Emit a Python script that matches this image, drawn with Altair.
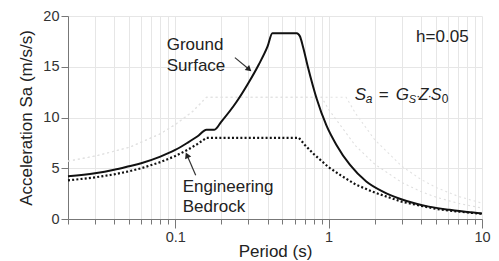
import altair as alt
import pandas as pd

# ---- data ----
bed_T = [0.02, 0.03, 0.04, 0.05, 0.06, 0.08, 0.1, 0.12, 0.14, 0.16, 0.64, 0.7, 0.8, 1.0, 1.2, 1.5, 2, 3, 4, 5, 6, 8, 10]
bed_S = [3.8, 4.1, 4.4, 4.7, 5.0, 5.6, 6.2, 6.8, 7.4, 8.0, 8.0, 7.3, 6.4, 5.1, 4.3, 3.4, 2.6, 1.7, 1.3, 1.0, 0.85, 0.64, 0.51]

gs_T = [0.02, 0.03, 0.04, 0.05, 0.06, 0.08, 0.1, 0.12, 0.14, 0.16, 0.18, 0.2, 0.25, 0.3, 0.35, 0.4, 0.43,
        0.62, 0.65, 0.68, 0.735, 0.834, 0.969, 1.125, 1.375, 1.76, 2.26, 2.91, 3.73, 4.5, 6.15, 8, 10]
gs_S = [4.2, 4.5, 4.85, 5.2, 5.5, 6.15, 6.8, 7.5, 8.15, 8.8, 8.8, 9.6, 11.5, 13.4, 15.2, 17.0, 18.3,
        18.3, 18.0, 17.0, 14.9, 11.9, 9.2, 7.3, 5.35, 3.7, 2.7, 2.0, 1.5, 1.22, 0.9, 0.68, 0.55]

fa_T = [0.02, 0.03, 0.05, 0.08, 0.1, 0.13, 0.16, 0.9, 1.0, 1.5, 2, 3, 4, 5, 7, 10]
fa_S = [5.7, 6.2, 7.05, 8.4, 9.3, 10.6, 12.0, 12.0, 10.8, 7.2, 5.4, 3.6, 2.7, 2.16, 1.54, 1.08]

fb_T = [0.02, 0.03, 0.05, 0.08, 0.1, 0.13, 0.16, 1.3, 1.5, 2, 3, 4, 5, 7, 10]
fb_S = [5.7, 6.2, 7.05, 8.4, 9.3, 10.6, 12.0, 12.0, 10.4, 7.8, 5.2, 3.9, 3.12, 2.23, 1.56]

x_ticks = [0.02, 0.03, 0.04, 0.05, 0.06, 0.07, 0.08, 0.09,
           0.1, 0.2, 0.3, 0.4, 0.5, 0.6, 0.7, 0.8, 0.9,
           1, 2, 3, 4, 5, 6, 7, 8, 9, 10]
y_ticks = [0, 5, 10, 15, 20]

labels_T = [0.088, 0.088, 0.112, 0.112, 3.72]
labels_S = [16.65, 14.6, 2.66, 0.69, 17.4]
labels_txt = ["Ground", "Surface", "Engineering", "Bedrock", "h=0.05"]

arrow_id = ["g", "g", "e", "e"]
arrow_T = [0.245, 0.30, 0.136, 0.12]
arrow_S = [15.9, 14.8, 4.3, 6.2]
tip_T = [0.30, 0.12]
tip_S = [14.8, 6.2]
tip_angle = [131, 336]

eq_T = 1.48
eq_S = 11.7

FONT = "Liberation Sans"

xs = alt.Scale(type="log", domain=[0.02, 10], nice=False)
ys = alt.Scale(domain=[0, 20], nice=False)

major_test = "abs(log(datum.value)/LN10 - round(log(datum.value)/LN10)) < 0.001"

x_axis = alt.Axis(
    values=x_ticks, title="Period (s)", grid=True, gridColor="#e6e6e6", gridWidth=1,
    labelExpr="datum.value == 0.1 ? '0.1' : datum.value == 1 ? '1' : datum.value == 10 ? '10' : ''",
    labelOverlap=False, labelFlush=False,
    tickSize={"condition": {"test": major_test, "value": 9}, "value": 5},
    labelPadding=2, titlePadding=0,
)
y_axis = alt.Axis(
    values=y_ticks, title="Acceleration Sa (m/s/s)", grid=True, gridColor="#e6e6e6",
    tickSize=7, labelPadding=2, titlePadding=7, labelFlush=False,
)


def X():
    return alt.X("T:Q", scale=xs, axis=x_axis)


def Y():
    return alt.Y("S:Q", scale=ys, axis=y_axis)


d_bed = pd.DataFrame({"T": bed_T, "S": bed_S})
d_gs = pd.DataFrame({"T": gs_T, "S": gs_S})
d_fa = pd.DataFrame({"T": fa_T, "S": fa_S})
d_fb = pd.DataFrame({"T": fb_T, "S": fb_S})

faint_a = alt.Chart(d_fa).mark_line(color="#dedede", strokeWidth=1.1, strokeDash=[2, 3]).encode(x=X(), y=Y())
faint_b = alt.Chart(d_fb).mark_line(color="#e2e2e2", strokeWidth=1.1, strokeDash=[2, 3]).encode(x=X(), y=Y())
bed = alt.Chart(d_bed).mark_line(color="#111111", strokeWidth=2.2, strokeDash=[2, 2.2]).encode(x=X(), y=Y())
gs = alt.Chart(d_gs).mark_line(color="#111111", strokeWidth=2, interpolate="monotone").encode(x=X(), y=Y())

d_lab = pd.DataFrame({"T": labels_T, "S": labels_S, "t": labels_txt})
labels = alt.Chart(d_lab).mark_text(align="left", baseline="alphabetic", font=FONT, fontSize=17,
                                    color="#222222").encode(x=X(), y=Y(), text="t:N")

d_arr = pd.DataFrame({"id": arrow_id, "T": arrow_T, "S": arrow_S})
arrows = alt.Chart(d_arr).mark_line(color="#333333", strokeWidth=1.2).encode(x=X(), y=Y(), detail="id:N")
d_tip = pd.DataFrame({"T": tip_T, "S": tip_S, "a": tip_angle})
tips = alt.Chart(d_tip).mark_point(shape="triangle", filled=True, size=45, color="#222222", opacity=1).encode(
    x=X(), y=Y(), angle=alt.Angle("a:Q", scale=None))

# equation  Sa = Gs·Z·S0  built from pieces
eq_parts = [
    ("S", 0, 0, 17, "italic"),
    ("a", 11, 3, 12, "italic"),
    ("=", 24, 0, 17, "normal"),
    ("G", 41, 0, 17, "italic"),
    ("S", 54, 3, 11, "italic"),
    ("·", 61.5, 0, 12, "normal"),
    ("Z", 64, 0, 16, "italic"),
    ("·", 73, 0, 12, "normal"),
    ("S", 76, 0, 16, "italic"),
    ("0", 87, 3, 12, "normal"),
]
d_eq = pd.DataFrame({"T": [eq_T], "S": [eq_S]})
eq_layers = []
for txt, dx, dy, fs, st in eq_parts:
    eq_layers.append(
        alt.Chart(d_eq).mark_text(text=txt, align="left", baseline="alphabetic", dx=dx, dy=dy,
                                  font=FONT, fontSize=fs, fontStyle=st, color="#222222").encode(x=X(), y=Y())
    )

chart = alt.layer(faint_a, faint_b, bed, gs, arrows, tips, labels, *eq_layers).properties(
    width=414, height=203,
    autosize=alt.AutoSizeParams(type="none"),
    padding={"left": 60, "top": 8, "right": 9, "bottom": 42},
).configure_view(stroke=None).configure_axis(
    labelFont=FONT, titleFont=FONT, labelFontSize=14.5, titleFontSize=17,
    labelColor="#333333", titleColor="#222222", titleFontWeight="normal",
    domainColor="#777777", tickColor="#777777",
)

chart.save("out.html", embed_options={"renderer": "svg", "actions": False})
